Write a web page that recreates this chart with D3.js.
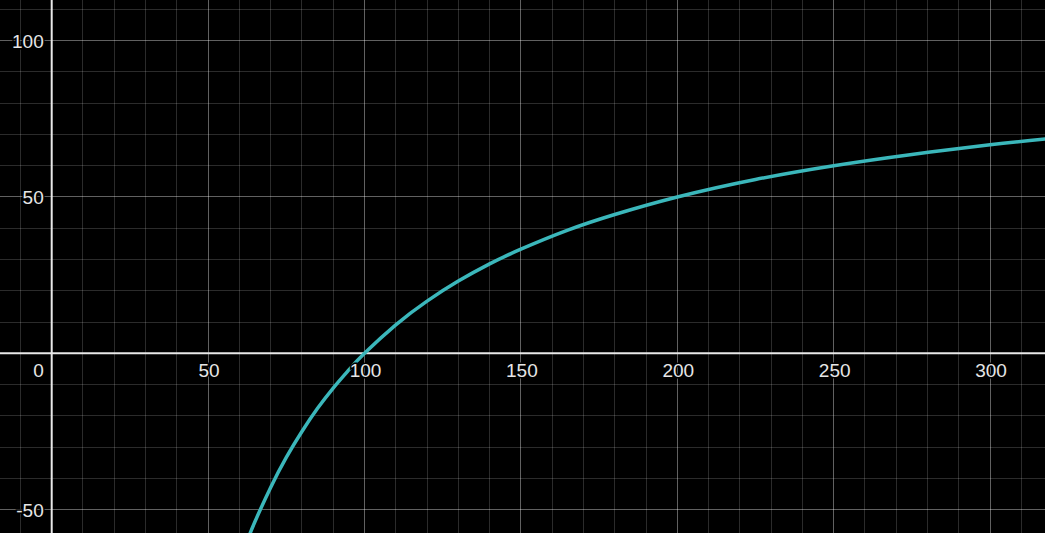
<!DOCTYPE html>
<html><head><meta charset="utf-8">
<script src="https://cdn.jsdelivr.net/npm/d3@7"></script>
<style>html,body{margin:0;padding:0;background:#000;overflow:hidden}</style>
</head><body><svg id="c" width="1045" height="533"></svg>
<script>
// Data
const curveX = [63, 65, 70, 75, 80, 85, 90, 95, 100, 110, 120, 130, 140, 150, 165, 180, 200, 225, 250, 275, 300, 318];
const curveY = [-58.7, -53.8, -42.9, -33.3, -25, -17.6, -11.1, -5.3, 0, 9.1, 16.7, 23.1, 28.6, 33.3, 39.4, 44.4, 50, 55.6, 60, 63.6, 66.7, 68.6];
const xTickLabels = [50, 100, 150, 200, 250, 300];
const yTickLabels = [100, 50, -50];
const xMinor = d3.range(-10, 320, 10);
const yMinor = d3.range(-50, 120, 10);

const W = 1045, H = 533;
const x = d3.scaleLinear().domain([-16.53, 317.56]).range([0, W]);
const y = d3.scaleLinear().domain([-57.47, 113.0]).range([H, 0]);
const svg = d3.select("#c");
svg.append("rect").attr("width", W).attr("height", H).attr("fill", "#000");

const g = svg.append("g");
// minor grid
g.selectAll(".vm").data(xMinor.filter(d => d % 50 !== 0)).join("line")
  .attr("x1", d => x(d)).attr("x2", d => x(d)).attr("y1", 0).attr("y2", H)
  .attr("stroke", "rgba(255,255,255,0.17)").attr("stroke-width", 1).attr("shape-rendering", "crispEdges");
g.selectAll(".hm").data(yMinor.filter(d => d % 50 !== 0)).join("line")
  .attr("y1", d => y(d)).attr("y2", d => y(d)).attr("x1", 0).attr("x2", W)
  .attr("stroke", "rgba(255,255,255,0.17)").attr("stroke-width", 1).attr("shape-rendering", "crispEdges");
// major grid
g.selectAll(".vM").data(xMinor.filter(d => d % 50 === 0 && d !== 0)).join("line")
  .attr("x1", d => x(d)).attr("x2", d => x(d)).attr("y1", 0).attr("y2", H)
  .attr("stroke", "rgba(255,255,255,0.38)").attr("stroke-width", 1).attr("shape-rendering", "crispEdges");
g.selectAll(".hM").data(yMinor.filter(d => d % 50 === 0 && d !== 0)).join("line")
  .attr("y1", d => y(d)).attr("y2", d => y(d)).attr("x1", 0).attr("x2", W)
  .attr("stroke", "rgba(255,255,255,0.38)").attr("stroke-width", 1).attr("shape-rendering", "crispEdges");
// axes
g.append("line").attr("x1", x(0)).attr("x2", x(0)).attr("y1", 0).attr("y2", H)
  .attr("stroke", "#e8e8e8").attr("stroke-width", 2);
g.append("line").attr("y1", y(0)).attr("y2", y(0)).attr("x1", 0).attr("x2", W)
  .attr("stroke", "#e8e8e8").attr("stroke-width", 2);

// curve
const pts = curveX.map((d, i) => [d, curveY[i]]);
svg.append("path").datum(pts)
  .attr("d", d3.line().x(d => x(d[0])).y(d => y(d[1])).curve(d3.curveNatural))
  .attr("fill", "none").attr("stroke", "#3bb7bb").attr("stroke-width", 3.5);

// labels
const lab = svg.append("g").attr("font-family", "Liberation Sans, Arial, sans-serif")
  .attr("font-size", 19).attr("fill", "#e6e6e6")
  .attr("stroke", "#000").attr("stroke-width", 3).attr("paint-order", "stroke");
lab.selectAll(".xl").data(xTickLabels).join("text")
  .attr("x", d => x(d) + 1).attr("y", y(0) + 24).attr("text-anchor", "middle").text(d => d);
lab.selectAll(".yl").data(yTickLabels).join("text")
  .attr("x", x(0) - 8).attr("y", d => y(d) + 7).attr("text-anchor", "end").text(d => d);
lab.append("text").attr("x", x(0) - 8).attr("y", y(0) + 24).attr("text-anchor", "end").text(0);
</script></body></html>
